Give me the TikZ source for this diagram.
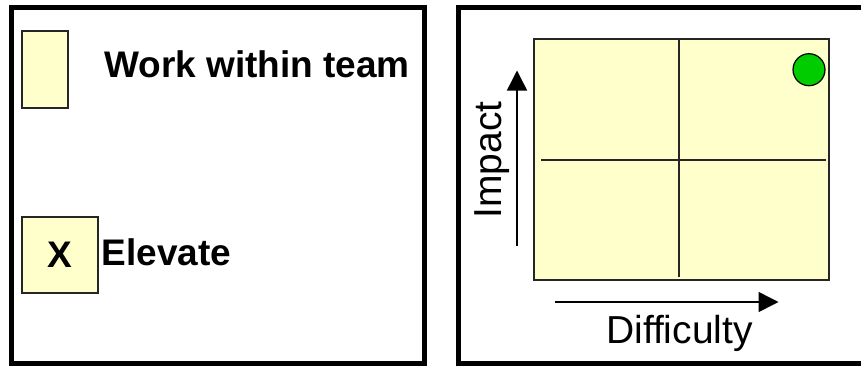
\documentclass[tikz,border=0pt]{standalone}
\usepackage{fontspec}
\setmainfont{Liberation Sans}
\usetikzlibrary{arrows.meta}
\definecolor{paleyellow}{HTML}{FFFFCC}
\definecolor{dotgreen}{HTML}{00CC00}
\begin{document}
\begin{tikzpicture}[x=1pt,y=-1pt,
  panel/.style={draw=black,line width=5pt},
  swatch/.style={draw=black!85,fill=paleyellow,line width=1.5pt},
  bigbold/.style={font=\fontsize{37}{44}\selectfont\bfseries,inner sep=0pt},
  axislabel/.style={font=\fontsize{39}{46}\selectfont,inner sep=0pt},
  axisarrow/.style={line width=1.5pt,-{Triangle[length=20pt,width=20pt]}},
  gridline/.style={draw=black!85,line width=1.5pt}]
\useasboundingbox (0,0) rectangle (861,365);
% left panel
\draw[panel] (11.5,7.5) rectangle (424.5,363.5);
\node[swatch,minimum width=46pt,minimum height=77pt,inner sep=0pt] (sw1) at (45,69.5) {};
\node[bigbold,anchor=base west] (t1) at (104,77) {Work within team};
\node[swatch,minimum width=76pt,minimum height=76pt,inner sep=0pt] (sw2) at (60,255) {};
\node[bigbold] (x) at (sw2.center) {X};
\node[bigbold,anchor=base west] (t2) at (101.5,265) {Elevate};
% right panel
\draw[panel] (458,7.5) rectangle (875,363.5);
\node[swatch,minimum width=295pt,minimum height=241pt,inner sep=0pt] (quad) at (681.5,159.5) {};
\coordinate (vtop) at (679,39);
\coordinate (vbot) at (679,277);
\coordinate (hl) at (541,160);
\coordinate (hr) at (826,160);
\draw[gridline] (vtop) -- (vbot);
\draw[gridline] (hl) -- (hr);
\node[circle,draw=black,line width=1.2pt,fill=dotgreen,minimum size=32pt,inner sep=0pt] (dot) at (809,69.7) {};
\coordinate (ia) at (517,246);
\coordinate (ib) at (517,70.5);
\draw[axisarrow] (ia) -- (ib);
\node[axislabel,rotate=90,anchor=base] (imp) at (501.5,160) {Impact};
\coordinate (da) at (555,302);
\coordinate (db) at (778.5,302);
\draw[axisarrow] (da) -- (db);
\node[axislabel,anchor=base] (dif) at (679.5,343) {Difficulty};
\end{tikzpicture}
\end{document}
